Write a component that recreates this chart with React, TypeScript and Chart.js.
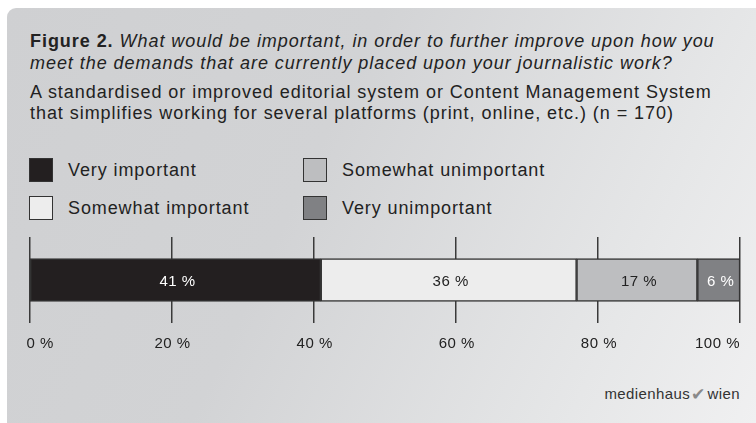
import React, { useEffect, useRef } from "react";
import { Chart, registerables } from "chart.js";

Chart.register(...registerables);

const titleBold = "Figure 2.";
const titleItalicLine1 = "What would be important, in order to further improve upon how you";
const titleItalicLine2 = "meet the demands that are currently placed upon your journalistic work?";
const subtitleLine1 = "A standardised or improved editorial system or Content Management System";
const subtitleLine2 = "that simplifies working for several platforms (print, online, etc.) (n = 170)";

const categories = ["Editorial system / CMS"];
const seriesNames = ["Very important", "Somewhat important", "Somewhat unimportant", "Very unimportant"];
const seriesValues = [41, 36, 17, 6];
const seriesColors = ["#231f20", "#ededed", "#bdbec0", "#808184"];
const valueLabelColors = ["#ffffff", "#222222", "#222222", "#ffffff"];
const tickValues = [0, 20, 40, 60, 80, 100];
const tickLabels = ["0 %", "20 %", "40 %", "60 %", "80 %", "100 %"];
const legendRows = [
  [0, 2],
  [1, 3],
];

const FONT = "'Liberation Sans', Arial, Helvetica, sans-serif";

const valueLabelsPlugin = {
  id: "valueLabels",
  afterDatasetsDraw(chart: any) {
    const ctx = chart.ctx;
    ctx.save();
    ctx.font = `15px ${FONT}`;
    (ctx as any).letterSpacing = "0.5px";
    ctx.textAlign = "center";
    ctx.textBaseline = "middle";
    chart.data.datasets.forEach((ds: any, i: number) => {
      const el = chart.getDatasetMeta(i).data[0];
      if (!el) return;
      const cx = (el.x + el.base) / 2;
      ctx.fillStyle = valueLabelColors[i];
      ctx.fillText(`${ds.data[0]} %`, cx + 2, el.y + 2);
    });
    ctx.restore();
  },
};

const tickLabelsPlugin = {
  id: "tickLabelsBelow",
  afterDraw(chart: any) {
    const ctx = chart.ctx;
    const scale = chart.scales.x;
    ctx.save();
    ctx.font = `15px ${FONT}`;
    (ctx as any).letterSpacing = "0.5px";
    ctx.fillStyle = "#222222";
    ctx.textBaseline = "middle";
    tickValues.forEach((v, i) => {
      const px = scale.getPixelForValue(v);
      if (i === 0) {
        ctx.textAlign = "left";
        ctx.fillText(tickLabels[i], px - 3, chart.chartArea.bottom + 21);
      } else if (i === tickValues.length - 1) {
        ctx.textAlign = "right";
        ctx.fillText(tickLabels[i], px, chart.chartArea.bottom + 21);
      } else {
        ctx.textAlign = "center";
        ctx.fillText(tickLabels[i], px + 1, chart.chartArea.bottom + 21);
      }
    });
    ctx.restore();
  },
};

function BarChart() {
  const ref = useRef<HTMLCanvasElement | null>(null);
  useEffect(() => {
    if (!ref.current) return;
    const chart = new Chart(ref.current, {
      type: "bar",
      data: {
        labels: categories,
        datasets: seriesNames.map((name, i) => ({
          label: name,
          data: [seriesValues[i]],
          backgroundColor: seriesColors[i],
          borderColor: "#333333",
          borderWidth: 1.5,
          borderSkipped: false,
          barThickness: 43,
        })),
      },
      options: {
        indexAxis: "y",
        responsive: false,
        animation: false,
        layout: { padding: { left: 29.5, right: 16, top: 12, bottom: 42 } },
        plugins: {
          legend: { display: false },
          tooltip: { enabled: false },
        },
        scales: {
          x: {
            stacked: true,
            min: 0,
            max: 100,
            ticks: { display: false, stepSize: 20 },
            grid: { color: "#3a3a3a", lineWidth: 1.5, drawTicks: false },
            border: { display: false },
            afterFit: (s: any) => {
              s.height = 0;
            },
          },
          y: {
            stacked: true,
            display: false,
          },
        },
      },
      plugins: [valueLabelsPlugin, tickLabelsPlugin],
    } as any);
    return () => chart.destroy();
  }, []);
  return <canvas ref={ref} width={756} height={140} style={{ display: "block" }} />;
}

export default function App() {
  const legendText: React.CSSProperties = {
    position: "absolute",
    fontFamily: FONT,
    fontSize: 18,
    letterSpacing: "0.9px",
    color: "#222",
    lineHeight: "24px",
    whiteSpace: "nowrap",
  };
  const titleStyle: React.CSSProperties = {
    position: "absolute",
    left: 30,
    fontFamily: FONT,
    fontSize: 18,
    letterSpacing: "0.95px",
    color: "#222",
    whiteSpace: "nowrap",
    lineHeight: "22px",
  };
  return (
    <div style={{ position: "fixed", left: 0, top: 0, width: 756, height: 423, overflow: "hidden", background: "#fff" }}>
      <div
        style={{
          position: "absolute",
          left: 7,
          top: 8,
          right: 0,
          bottom: 0,
          borderTopLeftRadius: 9,
          background: "linear-gradient(115deg, #cfd0d2 0%, #d2d3d5 40%, #e6e7e8 80%, #f0f0f1 100%)",
        }}
      />
      <div style={{ ...titleStyle, top: 30 }}>
        <b>{titleBold}</b> <i>{titleItalicLine1}</i>
      </div>
      <div style={{ ...titleStyle, top: 52 }}>
        <i>{titleItalicLine2}</i>
      </div>
      <div style={{ ...titleStyle, top: 81 }}>{subtitleLine1}</div>
      <div style={{ ...titleStyle, top: 102 }}>{subtitleLine2}</div>

      {legendRows.map((row, r) =>
        row.map((idx, c) => (
          <React.Fragment key={`${r}-${c}`}>
            <div
              style={{
                position: "absolute",
                left: c === 0 ? 29 : 303,
                top: r === 0 ? 158 : 196,
                width: 24,
                height: 24,
                boxSizing: "border-box",
                border: "1.5px solid #333",
                background: seriesColors[idx],
              }}
            />
            <div style={{ ...legendText, left: c === 0 ? 68 : 342, top: r === 0 ? 158 : 196 }}>{seriesNames[idx]}</div>
          </React.Fragment>
        ))
      )}

      <div style={{ position: "absolute", left: 0, top: 225 }}>
        <BarChart />
      </div>

      <div
        style={{
          position: "absolute",
          right: 16,
          top: 384,
          fontFamily: FONT,
          fontSize: 15,
          letterSpacing: "0.4px",
          color: "#333",
          whiteSpace: "nowrap",
          lineHeight: "20px",
        }}
      >
        medienhaus
        <span style={{ color: "#8a8a8a", fontSize: 17, margin: "0 2px 0 1px", position: "relative", top: 1 }}>✔</span>
        wien
      </div>
    </div>
  );
}
